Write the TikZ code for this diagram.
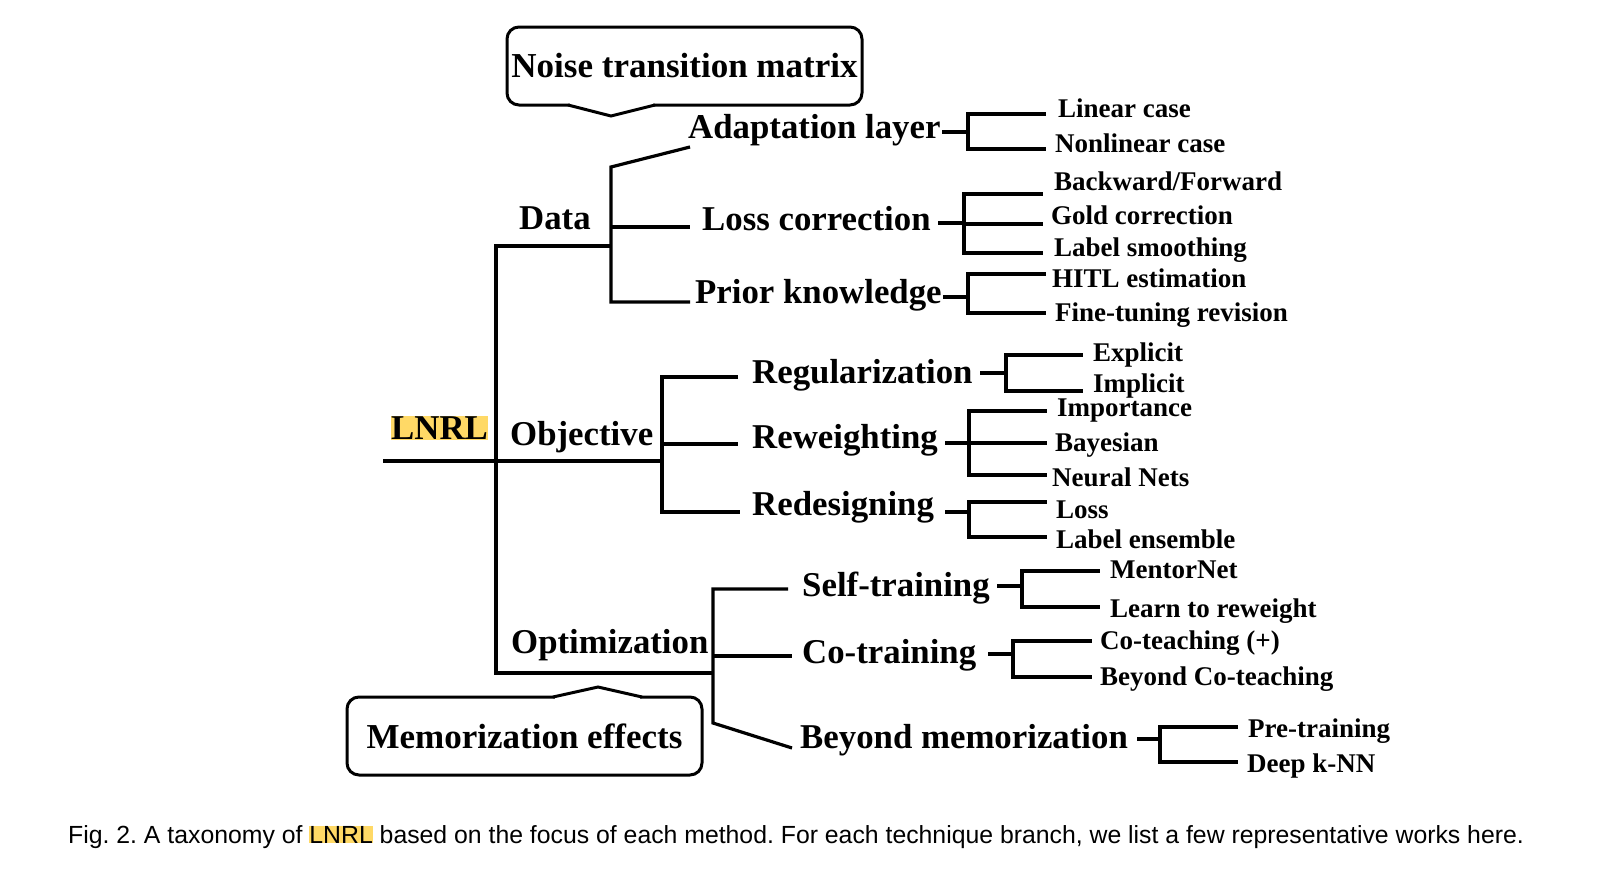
\documentclass[tikz,border=0pt]{standalone}
\usepackage{fontspec}
\setmainfont{Liberation Serif}
\newfontfamily\capfont{Liberation Sans}
\definecolor{hl}{RGB}{255,217,102}
\frenchspacing
\newcommand\leafbr[6]{%
  \coordinate (#1-ds) at (#2,#3);
  \coordinate (#1-bk) at (#4,#3);
  \draw[tline] (#1-ds) -- (#1-bk);
  \foreach \yy [count=\ii] in {#6} {
    \coordinate (#1-e\ii) at (#5,\yy);
    \draw[tline] (#1-bk) |- (#1-e\ii);
  }%
}
\begin{document}
\begin{tikzpicture}[x=1pt,y=-1pt,
  tline/.style={line width=3.2pt, line join=miter, line cap=butt},
  lvl/.style={anchor=base west, inner sep=0pt, font=\bfseries\fontsize{34.8}{36}\selectfont},
  leaf/.style={anchor=base west, inner sep=0pt, font=\bfseries\fontsize{27}{29}\selectfont},
  bubble/.style={draw, line width=3pt, rounded corners=12pt, inner sep=0pt,
    minimum width=355pt, minimum height=78pt, font=\bfseries\fontsize{35}{37}\selectfont},
  ptr/.style={line width=3pt, line join=miter},
]
\useasboundingbox (0,0) rectangle (1617,886);

% ---------- callout boxes ----------
\node[bubble] (ntm) at (684.5,66) {Noise transition matrix};
\coordinate (ntm-p1) at (568,105);
\coordinate (ntm-tip) at (611,116);
\coordinate (ntm-p2) at (655,105);
\fill[white] (570,102) rectangle (653,108);
\draw[ptr] (ntm-p1) -- (ntm-tip) -- (ntm-p2);

\node[bubble] (mem) at (524.5,736) {Memorization effects};
\coordinate (mem-p1) at (553,697);
\coordinate (mem-tip) at (598,687);
\coordinate (mem-p2) at (642,697);
\fill[white] (555,694) rectangle (640,700);
\draw[ptr] (mem-p1) -- (mem-tip) -- (mem-p2);

% ---------- root and first level ----------
\node[lvl] (lnrl) at (390.5,439) {\fboxsep=0.5pt\colorbox{hl}{LNRL}};
\node[lvl] (data) at (519,229) {Data};
\node[lvl] (obj) at (510,445) {Objective};
\node[lvl] (opt) at (511,653) {Optimization};

\coordinate (root) at (383,461);
\coordinate (objb) at (662,461);
\coordinate (datab) at (611,246);
\coordinate (trtop) at (496,246);
\coordinate (trbot) at (496,673);
\coordinate (optb) at (713,673);
\draw[tline] (root) -- (objb);
\draw[tline] (datab) -- (trtop) -- (trbot) -- (optb);

% ---------- second level ----------
\node[lvl] (adapt) at (688,138) {Adaptation layer};
\node[lvl] (losscorr) at (702,230) {Loss correction};
\node[lvl] (prior) at (695,303) {Prior knowledge};
\node[lvl] (reg) at (752,383) {Regularization};
\node[lvl] (rew) at (752,448) {Reweighting};
\node[lvl] (red) at (752,515) {Redesigning};
\node[lvl] (self) at (802,596) {Self-training};
\node[lvl] (cot) at (802,663) {Co-training};
\node[lvl] (bmem) at (800,748) {Beyond memorization};

% data bracket
\coordinate (adapt-s) at (690,147);
\coordinate (datab-t) at (611,167);
\coordinate (datab-b) at (611,302);
\coordinate (prior-s) at (690,302);
\coordinate (datab-m) at (611,227);
\coordinate (loss-s) at (690,227);
\draw[tline] (adapt-s) -- (datab-t) -- (datab-b) -- (prior-s);
\draw[tline] (datab-m) -- (loss-s);

% objective bracket
\coordinate (reg-s) at (738,377);
\coordinate (objb-t) at (662,377);
\coordinate (objb-b) at (662,512);
\coordinate (red-s) at (740,512);
\coordinate (objb-m) at (662,444);
\coordinate (rew-s) at (738,444);
\draw[tline] (reg-s) -- (objb-t) -- (objb-b) -- (red-s);
\draw[tline] (objb-m) -- (rew-s);

% optimization bracket
\coordinate (self-s) at (788,589);
\coordinate (optb-t) at (713,589);
\coordinate (optb-b) at (713,723);
\coordinate (bmem-s) at (792,748);
\coordinate (optb-m) at (713,656);
\coordinate (cot-s) at (792,656);
\draw[tline] (self-s) -- (optb-t) -- (optb-b) -- (bmem-s);
\draw[tline] (optb-m) -- (cot-s);

% ---------- leaves ----------
\leafbr{al}{942}{132}{968}{1046}{114,149}
\node[leaf] (lin) at (1058,117) {Linear case};
\node[leaf] (nonlin) at (1055,152) {Nonlinear case};

\leafbr{lc}{938}{223}{964}{1043}{194,224,253}
\node[leaf] (bf) at (1054,190) {Backward/Forward};
\node[leaf] (gold) at (1051,224) {Gold correction};
\node[leaf] (ls) at (1054,256) {Label smoothing};

\leafbr{pk}{943}{297}{968}{1046}{274,313}
\node[leaf] (hitl) at (1052,287) {HITL estimation};
\node[leaf] (ftr) at (1055,321) {Fine-tuning revision};

\leafbr{rg}{980}{373}{1006}{1083}{355,391}
\node[leaf] (expl) at (1093,361) {Explicit};
\node[leaf] (impl) at (1093,392) {Implicit};

\leafbr{rw}{945}{443}{969}{1047}{411,443,475}
\node[leaf] (imp) at (1057,416) {Importance};
\node[leaf] (bay) at (1055,451) {Bayesian};
\node[leaf] (nn) at (1052,486) {Neural Nets};

\leafbr{rd}{945}{512}{969}{1047}{502,537}
\node[leaf] (lossl) at (1056,518) {Loss};
\node[leaf] (lens) at (1056,548) {Label ensemble};

\leafbr{st}{997}{586}{1022}{1100}{571,607}
\node[leaf] (mentor) at (1110,578) {MentorNet};
\node[leaf] (l2rw) at (1110,617) {Learn to reweight};

\leafbr{ct}{988}{654}{1013}{1092}{641,677}
\node[leaf] (coteach) at (1100,649) {Co-teaching (+)};
\node[leaf] (bcot) at (1100,685) {Beyond Co-teaching};

\leafbr{bm}{1137}{739}{1160}{1238}{727,762}
\node[leaf] (pre) at (1248,737) {Pre-training};
\node[leaf] (dknn) at (1247,772) {Deep k-NN};

% ---------- caption ----------
\node[anchor=base west, inner sep=0pt, font=\capfont\fontsize{24.8}{26}\selectfont] (cap) at (68,843)
  {Fig. 2. A taxonomy of {\fboxsep=0pt\colorbox{hl}{LNRL}} based on the focus of each method. For each technique branch, we list a few representative works here.};
\end{tikzpicture}
\end{document}
